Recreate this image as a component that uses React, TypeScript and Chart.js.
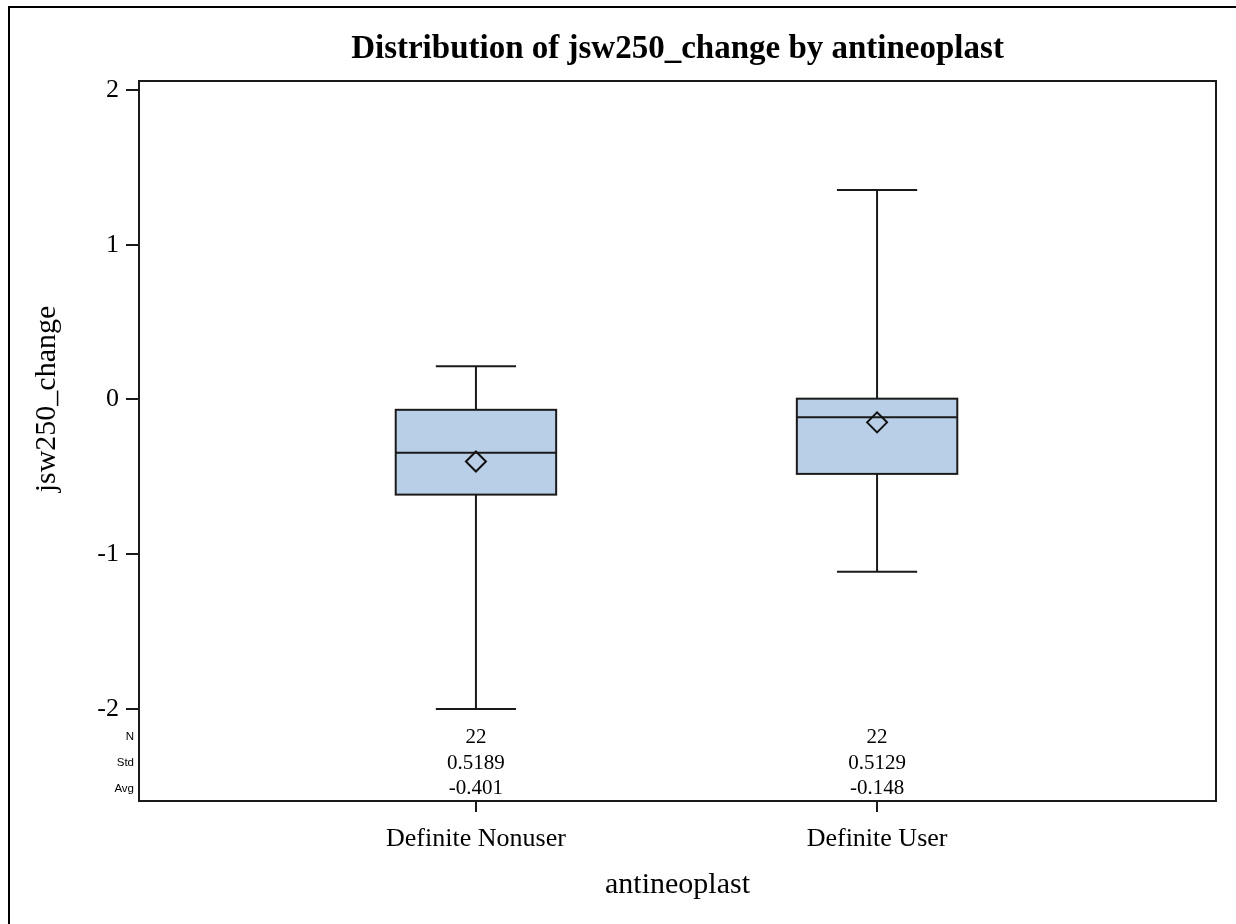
import React, { useEffect, useRef } from 'react';
import { Chart, registerables } from 'chart.js';

Chart.register(...registerables);

// ---------- data ----------
const categories = ['Definite Nonuser', 'Definite User'];
const categoryPositions = [1, 2];
const whiskerLow = [-2.0, -1.113];
const q1Values = [-0.615, -0.481];
const medianValues = [-0.345, -0.115];
const q3Values = [-0.067, 0.005];
const whiskerHigh = [0.215, 1.354];
const meanValues = [-0.401, -0.148];
const countLabels = ['22', '22'];
const stdLabels = ['0.5189', '0.5129'];
const avgLabels = ['-0.401', '-0.148'];
const statRowLabels = ['N', 'Std', 'Avg'];
const yTicks = [-2, -1, 0, 1, 2];

const titleText = 'Distribution of jsw250_change by antineoplast';
const xTitleText = 'antineoplast';
const yTitleText = 'jsw250_change';

// ---------- styles ----------
const SERIF = '"Liberation Serif", "Times New Roman", serif';
const SANS = '"Liberation Sans", Arial, sans-serif';
const LINE = '#1a1a1a';
const FILL = '#B9CFE7';
const BOX_HALF = 0.2;
const CAP_HALF = 0.1;

const boxPlugin = {
  id: 'boxPlot',
  beforeDatasetsDraw(chart: any) {
    const { ctx, scales } = chart;
    const x = scales.x;
    const y = scales.y;
    ctx.save();
    ctx.strokeStyle = LINE;
    ctx.lineWidth = 2;
    const seg = (x1: number, y1: number, x2: number, y2: number) => {
      ctx.beginPath();
      ctx.moveTo(x1, y1);
      ctx.lineTo(x2, y2);
      ctx.stroke();
    };
    categoryPositions.forEach((pos, i) => {
      const cx = x.getPixelForValue(pos);
      const bl = x.getPixelForValue(pos - BOX_HALF);
      const br = x.getPixelForValue(pos + BOX_HALF);
      const cl = x.getPixelForValue(pos - CAP_HALF);
      const cr = x.getPixelForValue(pos + CAP_HALF);
      const yLo = y.getPixelForValue(whiskerLow[i]);
      const yQ1 = y.getPixelForValue(q1Values[i]);
      const yMed = y.getPixelForValue(medianValues[i]);
      const yQ3 = y.getPixelForValue(q3Values[i]);
      const yHi = y.getPixelForValue(whiskerHigh[i]);
      seg(cx, yQ3, cx, yHi);
      seg(cl, yHi, cr, yHi);
      seg(cx, yQ1, cx, yLo);
      seg(cl, yLo, cr, yLo);
      ctx.fillStyle = FILL;
      ctx.fillRect(bl, yQ3, br - bl, yQ1 - yQ3);
      ctx.strokeRect(bl, yQ3, br - bl, yQ1 - yQ3);
      seg(bl, yMed, br, yMed);
    });
    ctx.restore();
  },
};

const decorPlugin = {
  id: 'decor',
  beforeDraw(chart: any) {
    const { ctx, width, height } = chart;
    ctx.save();
    ctx.fillStyle = '#fff';
    ctx.fillRect(0, 0, width, height);
    ctx.fillStyle = '#000';
    ctx.fillRect(8, 6, 2, height - 6);
    ctx.fillRect(8, 6, width - 8, 2);
    ctx.restore();
  },
  afterDraw(chart: any) {
    const { ctx, chartArea, scales } = chart;
    const x = scales.x;
    ctx.save();
    // plot frame
    ctx.strokeStyle = LINE;
    ctx.lineWidth = 2;
    ctx.strokeRect(chartArea.left, chartArea.top, chartArea.right - chartArea.left, chartArea.bottom - chartArea.top);
    // title
    ctx.fillStyle = '#000';
    ctx.textAlign = 'center';
    ctx.textBaseline = 'middle';
    ctx.font = `bold 33px ${SERIF}`;
    ctx.fillText(titleText, (chartArea.left + chartArea.right) / 2, 49);
    // y axis title
    ctx.save();
    ctx.translate(47, 399);
    ctx.rotate(-Math.PI / 2);
    ctx.font = `30px ${SERIF}`;
    ctx.fillText(yTitleText, 0, 0);
    ctx.restore();
    // stats table
    const rows = [countLabels, stdLabels, avgLabels];
    const offsets = [64, 38, 12.5];
    rows.forEach((row, r) => {
      const yy = chartArea.bottom - offsets[r];
      ctx.font = `11.5px ${SANS}`;
      ctx.textAlign = 'right';
      ctx.fillText(statRowLabels[r], chartArea.left - 5, yy);
      ctx.font = `21px ${SERIF}`;
      ctx.textAlign = 'center';
      row.forEach((txt, i) => {
        ctx.fillText(txt, x.getPixelForValue(categoryPositions[i]), yy);
      });
    });
    ctx.restore();
  },
};

export default function App() {
  const canvasRef = useRef<HTMLCanvasElement | null>(null);

  useEffect(() => {
    if (!canvasRef.current) return;
    const chart = new Chart(canvasRef.current, {
      type: 'scatter',
      data: {
        datasets: [
          {
            label: 'Mean',
            data: categoryPositions.map((p, i) => ({ x: p, y: meanValues[i] })),
            pointStyle: 'rectRot',
            pointRadius: 10,
            pointHoverRadius: 10,
            borderWidth: 2,
            borderColor: '#111',
            backgroundColor: 'rgba(0,0,0,0)',
          },
        ],
      },
      options: {
        animation: false,
        responsive: false,
        devicePixelRatio: 1,
        events: [],
        layout: { padding: { top: 81, left: 0, right: 20, bottom: 0 } },
        plugins: {
          legend: { display: false },
          tooltip: { enabled: false },
          title: { display: false },
        },
        scales: {
          x: {
            type: 'linear',
            min: 0.16,
            max: 2.845,
            afterFit: (scale: any) => {
              scale.height = 123;
            },
            afterBuildTicks: (scale: any) => {
              scale.ticks = categoryPositions.map((v) => ({ value: v }));
            },
            ticks: {
              autoSkip: false,
              maxRotation: 0,
              padding: 12,
              color: '#000',
              font: { family: SERIF, size: 26 },
              callback: (v: any) => categories[categoryPositions.indexOf(Number(v))] ?? '',
            },
            grid: {
              display: true,
              drawOnChartArea: false,
              drawTicks: true,
              tickLength: 11,
              color: LINE,
              lineWidth: 2,
            },
            border: { display: false },
            title: {
              display: true,
              text: xTitleText,
              color: '#000',
              font: { family: SERIF, size: 30 },
              padding: { top: 0, bottom: 21 },
            },
          },
          y: {
            type: 'linear',
            min: -2.595,
            max: 2.058,
            afterFit: (scale: any) => {
              scale.width = 139;
            },
            afterBuildTicks: (scale: any) => {
              scale.ticks = yTicks.map((v) => ({ value: v }));
            },
            ticks: {
              padding: 7,
              color: '#000',
              font: { family: SERIF, size: 26 },
              callback: (v: any) => String(v),
            },
            grid: {
              display: true,
              drawOnChartArea: false,
              drawTicks: true,
              tickLength: 13,
              color: LINE,
              lineWidth: 2,
            },
            border: { display: false },
          },
        },
      },
      plugins: [boxPlugin, decorPlugin],
    } as any);
    return () => chart.destroy();
  }, []);

  return (
    <div style={{ position: 'fixed', left: 0, top: 0, width: 1236, height: 924, overflow: 'hidden', background: '#fff' }}>
      <canvas ref={canvasRef} width={1236} height={924} style={{ display: 'block', width: 1236, height: 924 }} />
    </div>
  );
}
